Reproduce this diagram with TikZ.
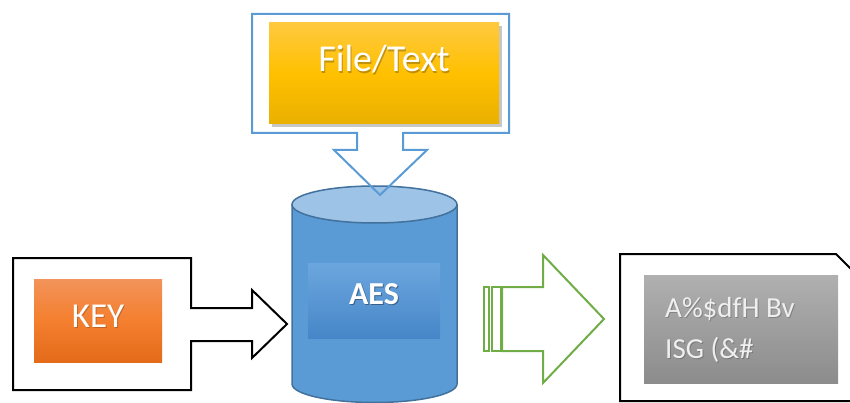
\documentclass[tikz,border=0pt]{standalone}
\usepackage{fontspec}
\setmainfont{Carlito}
\usetikzlibrary{shadows}
\definecolor{callblue}{HTML}{5B9BD5}
\definecolor{cylside}{HTML}{5B9BD5}
\definecolor{cyltop}{HTML}{9DC3E6}
\definecolor{cylline}{HTML}{41719C}
\definecolor{arrgreen}{HTML}{70AD47}
\definecolor{goldtop}{HTML}{FFC93F}
\definecolor{goldmid}{HTML}{FFC000}
\definecolor{goldbot}{HTML}{E9B000}
\definecolor{orgtop}{HTML}{F2935A}
\definecolor{orgmid}{HTML}{F47F2E}
\definecolor{orgbot}{HTML}{E36B1A}
\definecolor{aestop}{HTML}{6CA6DE}
\definecolor{aesbot}{HTML}{4686C8}
\definecolor{graytop}{HTML}{B0B0B0}
\definecolor{graybot}{HTML}{8C8C8C}
\definecolor{graytext}{HTML}{EFEFEF}
\tikzset{
  callout/.style={line width=2pt, line join=miter},
  boxfill/.style={draw=none, inner sep=0pt, outer sep=0pt},
  wtext/.style={text=white, inner sep=0pt},
  tshadow/.style={text=black, opacity=0.35, inner sep=0pt},
}
\begin{document}
\begin{tikzpicture}[x=1pt,y=-1pt]
\useasboundingbox (0,0) rectangle (850,403);
\clip (0,0) rectangle (850,403);
% cylinder
\fill[cylside] (292,204.5) -- (292,384)
  .. controls (292,394.2) and (328.9,402.5) .. (374.5,402.5)
  .. controls (420.1,402.5) and (457,394.2) .. (457,384)
  -- (457,204.5) -- cycle;
\draw[cylline, line width=1.5pt] (292,204.5) -- (292,384)
  .. controls (292,394.2) and (328.9,402.5) .. (374.5,402.5)
  .. controls (420.1,402.5) and (457,394.2) .. (457,384)
  -- (457,204.5);
\draw[cylline, line width=1.5pt, fill=cyltop] (374.5,204.5) ellipse [x radius=82.5, y radius=18.5];
\node[boxfill, minimum width=132pt, minimum height=75pt, top color=aestop, bottom color=aesbot] (aesbox) at (374,300.5) {};
\node[tshadow, anchor=base, font=\bfseries\fontsize{32}{34}\selectfont] (aesshadow) at (375,305.5) {AES};
\node[wtext, anchor=base, font=\bfseries\fontsize{32}{34}\selectfont] (aes) at (374,304) {AES};
% File/Text callout
\draw[callout, draw=callblue] (252,14) -- (509,14) -- (509,133) -- (403,133) -- (403,150) -- (427,150) -- (380,195) -- (334,150) -- (357,150) -- (357,133) -- (252,133) -- cycle;
\node[boxfill, minimum width=230pt, minimum height=101pt, top color=goldtop, bottom color=goldbot, middle color=goldmid,
  drop shadow={opacity=0.45, shadow xshift=2.5pt, shadow yshift=-3.5pt}] (filebox) at (384,73.5) {};
\node[tshadow, opacity=0.25, anchor=base, font=\fontsize{38}{42}\selectfont] (fileshadow) at (385,73.5) {File/Text};
\node[wtext, anchor=base, font=\fontsize{38}{42}\selectfont] (file) at (384,72) {File/Text};
% KEY callout
\draw[callout, draw=black] (13,258) -- (191,258) -- (191,308) -- (252,308) -- (252,290) -- (287,324) -- (252,358) -- (252,341) -- (191,341) -- (191,390) -- (13,390) -- cycle;
\node[boxfill, minimum width=128pt, minimum height=83pt, top color=orgtop, bottom color=orgbot, middle color=orgmid] (keybox) at (98,320.5) {};
\node[tshadow, opacity=0.2, anchor=base, font=\fontsize{35}{39}\selectfont] (keyshadow) at (99,328.5) {KEY};
\node[wtext, anchor=base, font=\fontsize{35}{39}\selectfont] (key) at (98,327) {KEY};
% green striped arrow
\draw[arrgreen, line width=2pt] (484,287) rectangle (489,351);
\draw[arrgreen, line width=2pt] (492,287) rectangle (501,351);
\draw[arrgreen, line width=2pt, line join=miter] (502,287) -- (543,287) -- (543,255) -- (604,319) -- (543,383) -- (543,351) -- (502,351) -- cycle;
% output callout
\draw[callout, draw=black] (620,254) -- (836,254) -- (880,298) -- (880,401) -- (620,401) -- cycle;
\node[boxfill, minimum width=194pt, minimum height=108pt, top color=graytop, bottom color=graybot] (outbox) at (741,329) {};
\node[tshadow, opacity=0.2, anchor=base west, font=\fontsize{29}{32}\selectfont] (out1s) at (666,318.5) {A\%\$dfH Bv};
\node[wtext, text=graytext, anchor=base west, font=\fontsize{29}{32}\selectfont] (out1) at (665,317) {A\%\$dfH Bv};
\node[tshadow, opacity=0.2, anchor=base west, font=\fontsize{29}{32}\selectfont] (out2s) at (666,359.5) {ISG (\&\#};
\node[wtext, text=graytext, anchor=base west, font=\fontsize{29}{32}\selectfont] (out2) at (665,358) {ISG (\&\#};
\end{tikzpicture}
\end{document}
